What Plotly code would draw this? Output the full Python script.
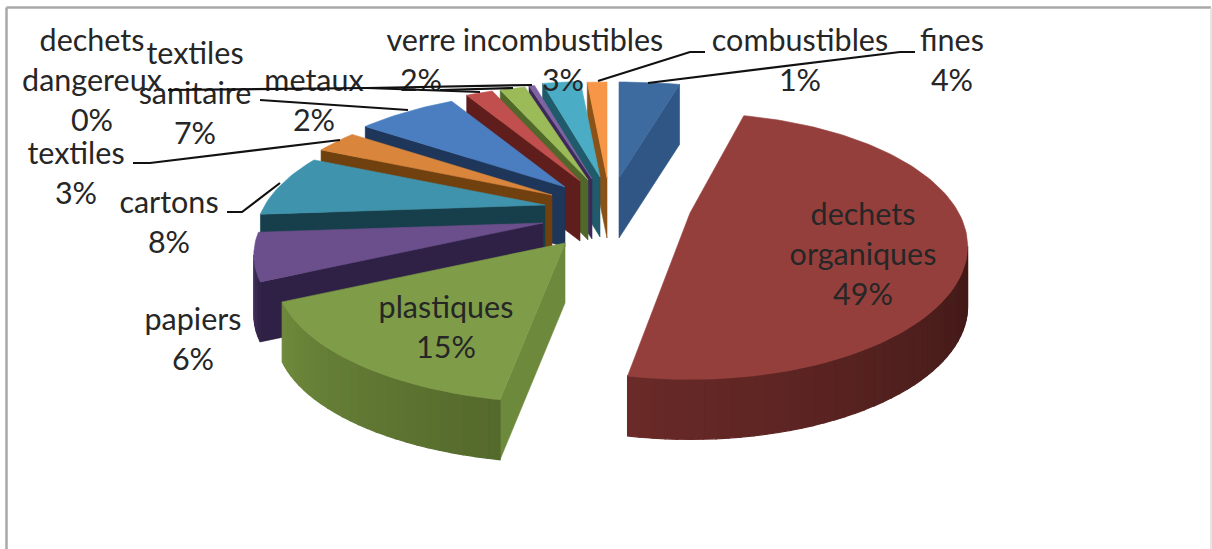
import math
import plotly.graph_objects as go

# Waste composition, clockwise from twelve o'clock
categories = ["fines", "dechets\norganiques", "plastiques", "papiers", "cartons", "textiles",
              "textiles\nsanitaire", "metaux", "verre", "dechets\ndangereux",
              "incombustibles", "combustibles"]
values = [4.0, 48.8, 15.0, 6.0, 8.0, 3.0, 7.0, 1.9, 1.8, 0.4, 2.7, 1.4]

top_colors = ["#3d6a9f", "#953f3c", "#7f9d49", "#6b4f8c", "#3f93ac", "#d9853b",
              "#4a7ec0", "#c04f4d", "#9bbb59", "#8064a2", "#4bacc6", "#f79646"]
cut_colors = ["#2f5684", "#5d2220", "#6d8a3c", "#2f2145", "#173f4b", "#70400f",
              "#1d3659", "#5f1d1c", "#50692a", "#3b2a58", "#1f5b6b", "#8a5216"]
rim_left = ["#2f5684", "#6a2a28", "#6f8a3c", "#46325f", "#173f4b", "#70400f",
            "#1d3659", "#5f1d1c", "#50692a", "#3b2a58", "#1f5b6b", "#8a5216"]
rim_right = ["#2f5684", "#3e1816", "#54692c", "#2f2145", "#173f4b", "#70400f",
             "#1d3659", "#5f1d1c", "#50692a", "#3b2a58", "#1f5b6b", "#8a5216"]

# Where each exploded wedge's tip lands on the canvas, in pixels
tips = [(619, 178), (690, 213), (565, 243), (543, 223), (545, 205), (552, 195),
        (565, 187), (580, 181), (588, 180), (592, 179), (600, 177), (607, 178)]
# Per-wedge stretch of the disc radii
scale_x = [1.08, 0.96, 1, 1, 1, 1, 1, 1, 1, 1, 1, 1]
scale_y = [1.0, 1.04, 1, 1, 1, 1, 1, 1, 1, 1, 1, 1]

# Anchor of each label's first text line (centre x, centre y)
label_anchors = [(952, 43), (863, 217), (446, 310), (193, 322), (169, 205), (76, 156),
                 (195, 56), (314, 83), (421, 43), (92, 43), (563, 43), (800, 43)]
LINE_STEP = 40

leader_lines = [
    [(648, 83), (900, 52), (915, 52)],
    [(598, 81), (690, 52), (705, 52)],
    [(168, 90), (367, 88), (532, 85)],
    [(367, 88), (480, 92)],
    [(440, 90), (513, 88)],
    [(260, 100), (408, 110)],
    [(133, 163), (150, 163), (340, 140)],
    [(227, 212), (242, 212), (280, 183)],
]

RX, RY, PERSPECTIVE, DEPTH = 280, 120, 0.25, 60


def project(i, angle):
    """Tilted-disc projection: the rear of the pie shrinks towards the vanishing point."""
    a = math.radians(angle)
    s = 1 / (1 + PERSPECTIVE * math.cos(a))
    return (tips[i][0] + scale_x[i] * RX * math.sin(a) * s,
            tips[i][1] - scale_y[i] * RY * math.cos(a) * s)


def arc(i, a0, a1, dy=0.0):
    n = max(2, int(abs(a1 - a0) / 1.5) + 1)
    pts = [project(i, a0 + (a1 - a0) * k / n) for k in range(n + 1)]
    return [(x, y + dy) for x, y in pts]


def mix(c0, c1, t):
    a = [int(c0[i:i + 2], 16) for i in (1, 3, 5)]
    b = [int(c1[i:i + 2], 16) for i in (1, 3, 5)]
    return "#" + "".join(f"{round(p + (q - p) * t):02x}" for p, q in zip(a, b))


def poly(fig, pts, color, edge=0.6):
    xs = [p[0] for p in pts] + [pts[0][0]]
    ys = [p[1] for p in pts] + [pts[0][1]]
    fig.add_trace(go.Scatter(x=xs, y=ys, mode="lines", fill="toself", fillcolor=color,
                             line=dict(color=color, width=edge), hoverinfo="skip",
                             showlegend=False))


total = sum(values)
spans = []
start = 0.0
for v in values:
    spans.append((start, start + v / total * 360))
    start = spans[-1][1]

fig = go.Figure()

# Back wedges first so the nearer ones overlap them
paint_order = [11, 10, 9, 8, 7, 6, 5, 4, 3, 2, 0, 1]
silhouette = math.degrees(math.acos(-PERSPECTIVE))
for i in paint_order:
    a0, a1 = spans[i]
    tip = tips[i]
    # Cut faces that turn towards the viewer
    if a0 > 180:
        p = project(i, a0)
        poly(fig, [tip, p, (p[0], p[1] + DEPTH), (tip[0], tip[1] + DEPTH)], cut_colors[i])
    if a1 < 180:
        p = project(i, a1)
        poly(fig, [tip, p, (p[0], p[1] + DEPTH), (tip[0], tip[1] + DEPTH)], cut_colors[i])
    # Curved outer wall, shaded in narrow strips
    r0, r1 = max(a0, silhouette), min(a1, 360 - silhouette)
    if r1 > r0:
        steps = max(1, int((r1 - r0) / 2))
        for k in range(steps):
            b0 = r0 + (r1 - r0) * k / steps
            b1 = r0 + (r1 - r0) * (k + 1) / steps
            top = arc(i, b0, b1)
            low = arc(i, b1, b0, DEPTH)
            t = 1 - (k + 0.5) / steps
            poly(fig, top + low, mix(rim_left[i], rim_right[i], t), edge=1.2)
    # Upper face
    poly(fig, [tip] + arc(i, a0, a1), top_colors[i])

# Category names with their rounded shares
text_x, text_y, text_s = [], [], []
for name, v, (ax, ay) in zip(categories, values, label_anchors):
    rows = name.split("\n") + [f"{round(v / total * 100)}%"]
    for r, row in enumerate(rows):
        text_x.append(ax)
        text_y.append(ay + r * LINE_STEP)
        text_s.append(row)
fig.add_trace(go.Scatter(x=text_x, y=text_y, text=text_s, mode="text", textposition="middle center",
                         textfont=dict(family="Lato", size=30.5, color="#262626"),
                         hoverinfo="skip", showlegend=False))

for line in leader_lines:
    fig.add_trace(go.Scatter(x=[p[0] for p in line], y=[p[1] for p in line], mode="lines",
                             line=dict(color="#111111", width=2.2), hoverinfo="skip",
                             showlegend=False))

frame_gray = "#a8a8a8"
fig.update_layout(
    width=1212, height=549, margin=dict(l=0, r=0, t=0, b=0),
    paper_bgcolor="white", plot_bgcolor="white", showlegend=False,
    xaxis=dict(range=[0, 1212], visible=False, fixedrange=True),
    yaxis=dict(range=[549, 0], visible=False, fixedrange=True),
    shapes=[
        dict(type="line", x0=6.5, y0=7.5, x1=1211, y1=7.5, layer="below",
             line=dict(color=frame_gray, width=2.5)),
        dict(type="line", x0=6.5, y0=7.5, x1=6.5, y1=549, layer="below",
             line=dict(color=frame_gray, width=2.5)),
        dict(type="line", x0=1211, y0=7.5, x1=1211, y1=549, layer="below",
             line=dict(color="#dedede", width=1.5)),
    ],
)
fig.write_html("out.html", config=dict(displayModeBar=False))
